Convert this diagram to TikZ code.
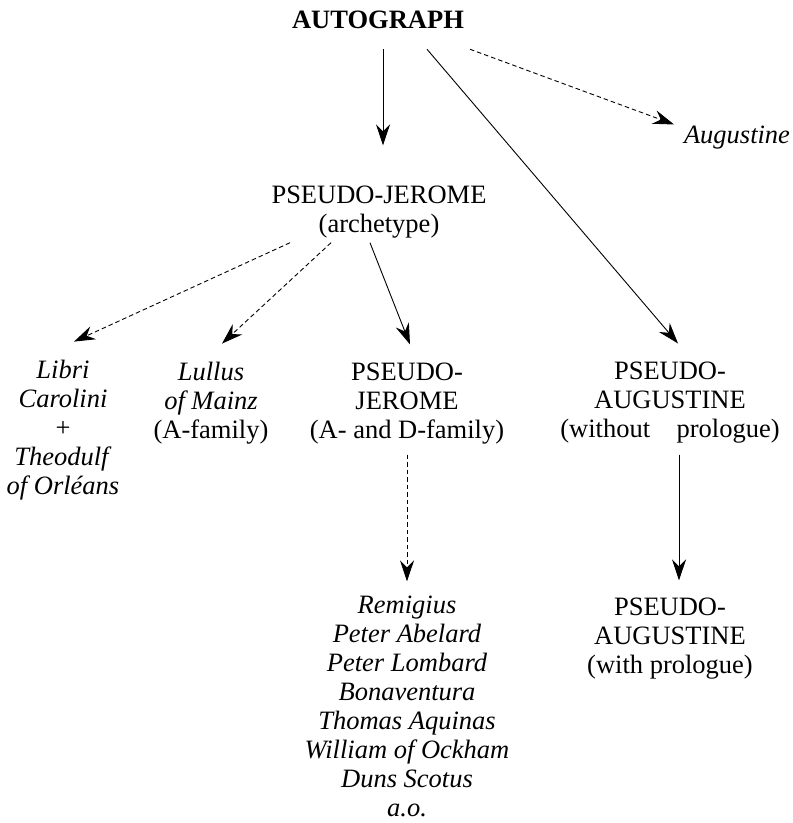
\documentclass[tikz,border=0pt]{standalone}
\usepackage{fontspec}
\setmainfont{Liberation Serif}
\usepackage{tikz}
\usetikzlibrary{arrows.meta}
\tikzset{
    txt/.style={
        inner sep=0pt,
        outer sep=0pt,
        anchor=base,
        align=center,
        font=\fontsize{26.5}{29}\selectfont
    },
    % solid arrows of the stemma
    solidarrow/.style={
        line width=0.9pt,
        black,
        ->,
        >={Stealth[length=21pt, width=14pt, inset=7pt]}
    },
    % dashed arrows (indirect use)
    dashedarrow/.style={
        solidarrow,
        dash pattern=on 4.5pt off 3pt
    }
}
\begin{document}
\begin{tikzpicture}[x=1pt,y=-1pt]
    \useasboundingbox (0,0) rectangle (793,823);

    % nodes are placed at the baseline of their last line
    \node[txt] (auto) at (378,28) {\textbf{AUTOGRAPH}};
    \node[txt] (aug) at (737,143) {\textit{Augustine}};
    \node[txt] (pj) at (379,232) {PSEUDO-JEROME\\(archetype)};
    \node[txt] (libri) at (63,494) {\textit{Libri}\\\textit{Carolini}\\+\\\textit{Theodulf}\\\textit{of Orléans}};
    \node[txt] (lullus) at (211,438) {\textit{Lullus}\\\textit{of Mainz}\\(A-family)};
    \node[txt] (pjad) at (407,438) {PSEUDO-\\JEROME\\(A- and D-family)};
    \node[txt] (pa) at (670,437) {PSEUDO-\\AUGUSTINE\\(without\quad prologue)};
    \node[txt] (later) at (407,816) {\textit{Remigius}\\\textit{Peter Abelard}\\\textit{Peter Lombard}\\\textit{Bonaventura}\\\textit{Thomas Aquinas}\\\textit{William of Ockham}\\\textit{Duns Scotus}\\\textit{a.o.}};
    \node[txt] (pap) at (670,673) {PSEUDO-\\AUGUSTINE\\(with prologue)};

    \draw[solidarrow] ([xshift=5pt,yshift=-21pt]auto.south) -- ([xshift=4pt,yshift=40pt]pj.north);
    \draw[solidarrow] ([xshift=49pt,yshift=-21pt]auto.south) -- ([xshift=8pt,yshift=18pt]pa.north);
    \draw[dashedarrow] ([xshift=92pt,yshift=-21pt]auto.south) -- ([xshift=-10pt,yshift=1pt]aug.north west);

    \draw[dashedarrow] ([xshift=-89pt,yshift=-5pt]pj.south) -- ([xshift=11pt,yshift=18pt]libri.north);
    \draw[dashedarrow] ([xshift=-48pt,yshift=-5pt]pj.south) -- ([xshift=11pt,yshift=18pt]lullus.north);
    \draw[solidarrow] ([xshift=-9pt,yshift=-5pt]pj.south) -- ([xshift=3pt,yshift=18pt]pjad.north);

    \draw[dashedarrow] ([yshift=-11pt]pjad.south) -- ([yshift=14pt]later.north);
    \draw[solidarrow] ([xshift=9pt,yshift=-12pt]pa.south) -- ([xshift=9pt,yshift=17pt]pap.north);
\end{tikzpicture}
\end{document}
